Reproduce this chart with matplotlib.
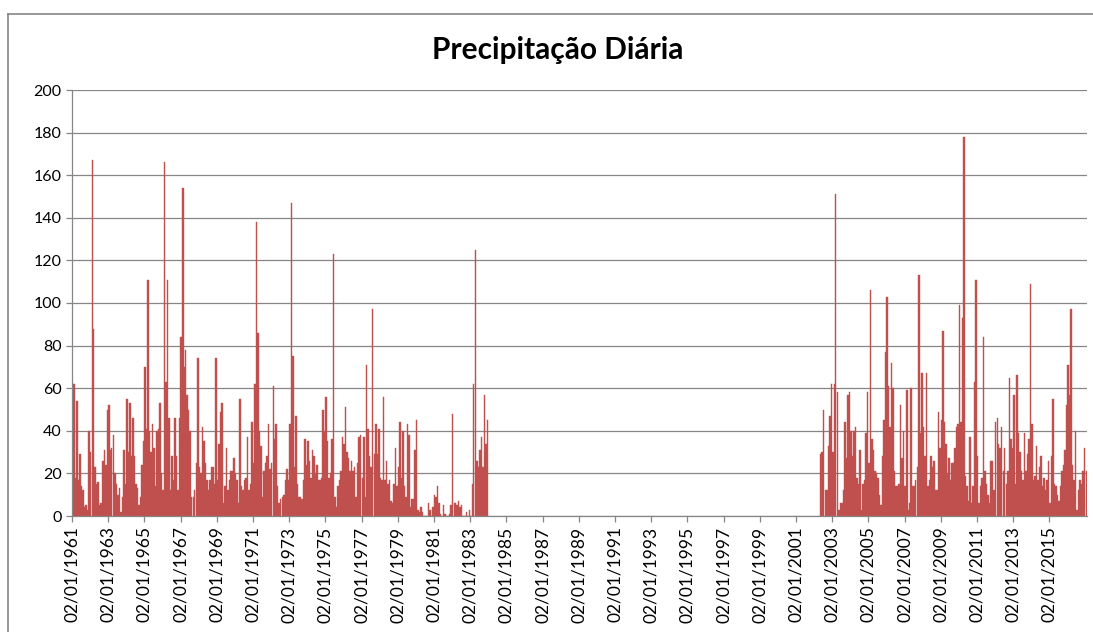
import numpy as np
import matplotlib.pyplot as plt
import matplotlib.dates as mdates
from matplotlib.lines import Line2D

plt.rcParams["font.family"] = ["Lato", "DejaVu Sans"]

# peak daily rainfall (mm) per month
start_1 = "1961-01"
rain_1961_1983 = [
    62, 62, 18, 54, 17, 29, 14, 12, 4, 5, 3, 40,
    30, 167, 88, 23, 15, 16, 5, 6, 26, 31, 24, 50,
    52, 31, 32, 38, 20, 15, 10, 13, 2, 9, 31, 15,
    55, 30, 53, 28, 46, 28, 15, 13, 5, 9, 24, 35,
    70, 41, 111, 40, 30, 43, 32, 14, 40, 41, 53, 20,
    12, 166, 63, 111, 46, 12, 28, 17, 46, 28, 12, 46,
    84, 154, 70, 78, 57, 50, 40, 9, 9, 12, 25, 74,
    23, 20, 42, 35, 25, 17, 12, 17, 23, 23, 15, 74,
    17, 34, 49, 53, 6, 14, 32, 12, 17, 21, 21, 27,
    20, 17, 6, 55, 14, 12, 17, 18, 37, 12, 15, 44,
    25, 62, 138, 86, 40, 33, 9, 21, 25, 28, 43, 22,
    25, 61, 36, 43, 14, 6, 8, 9, 10, 17, 22, 17,
    43, 147, 75, 23, 47, 15, 9, 9, 8, 17, 36, 24,
    35, 26, 18, 31, 28, 20, 24, 17, 17, 18, 50, 40,
    56, 35, 18, 20, 36, 123, 9, 4, 14, 17, 21, 37,
    34, 51, 30, 27, 21, 26, 21, 23, 9, 25, 37, 38,
    18, 37, 9, 71, 41, 28, 23, 97, 29, 43, 29, 41,
    18, 17, 56, 17, 26, 15, 17, 7, 6, 15, 32, 14,
    23, 44, 18, 40, 14, 9, 43, 38, 4, 8, 8, 31,
    45, 3, 2, 4, 2, 0, 0, 0, 6, 3, 0, 4,
    10, 9, 14, 6, 1, 0, 5, 1, 0, 0, 1, 5,
    48, 6, 6, 5, 7, 4, 5, 0, 0, 2, 0, 3,
    0, 15, 62, 125, 26, 23, 31, 37, 23, 57, 34, 45,
]

start_2 = "2002-05"
rain_2002_2017 = [
    29, 30, 50, 12, 12, 33, 47, 62,
    30, 62, 151, 58, 3, 6, 6, 12, 44, 27, 57, 58,
    40, 28, 40, 42, 18, 15, 31, 3, 15, 17, 39, 58,
    25, 106, 36, 31, 21, 20, 18, 10, 5, 28, 45, 77,
    103, 61, 42, 72, 60, 21, 14, 14, 15, 52, 27, 40,
    14, 59, 3, 6, 60, 14, 14, 17, 23, 113, 39, 67,
    42, 28, 67, 14, 17, 28, 23, 26, 12, 12, 49, 32,
    45, 87, 44, 34, 20, 27, 17, 25, 25, 32, 42, 43,
    99, 44, 93, 178, 19, 14, 7, 37, 6, 14, 63, 111,
    28, 6, 14, 18, 84, 21, 15, 10, 6, 26, 26, 12,
    44, 46, 34, 32, 42, 21, 32, 15, 21, 65, 36, 32,
    57, 15, 66, 39, 30, 21, 17, 39, 21, 29, 36, 109,
    43, 17, 19, 33, 17, 23, 28, 14, 18, 12, 17, 26,
    6, 28, 55, 15, 14, 10, 7, 14, 21, 24, 31, 52,
    71, 57, 97, 24, 17, 40, 3, 12, 17, 15, 21, 32, 21,
]

tick_years = list(range(1961, 2016, 2))
y_ticks = list(range(0, 201, 20))
title = "Precipitação Diária"


def month_centres(start, n):
    first = np.datetime64(start, "M")
    months = np.arange(first, first + n)
    return mdates.date2num(months.astype("datetime64[D]") + 14)


fig = plt.figure(figsize=(10.93, 6.32), dpi=100)
W, H = 1093, 632
ax = fig.add_axes([72 / W, 1 - 516 / H, (1087 - 72) / W, (516 - 90) / H])

bar_color = "#C0504D"
for start, vals in [(start_1, rain_1961_1983), (start_2, rain_2002_2017)]:
    x = month_centres(start, len(vals))
    ax.bar(x, vals, width=30, color=bar_color, edgecolor=bar_color,
           linewidth=0.3)

ax.set_ylim(0, 200)
ax.set_yticks(y_ticks)
ax.set_xlim(mdates.date2num(np.datetime64("1961-01-02")),
            mdates.date2num(np.datetime64("2017-01-30")))
ticks = [mdates.date2num(np.datetime64(f"{y}-01-02")) for y in tick_years]
ax.set_xticks(ticks)
ax.set_xticklabels([f"02/01/{y}" for y in tick_years], rotation=90)

ax.yaxis.grid(True, color="#868686", linewidth=0.9)
ax.set_axisbelow(True)
for side in ["top", "right"]:
    ax.spines[side].set_visible(False)
for side in ["left", "bottom"]:
    ax.spines[side].set_color("#868686")
    ax.spines[side].set_linewidth(0.9)
ax.tick_params(direction="out", length=4.5, width=0.9, color="#868686",
               labelcolor="#000000", pad=3)
ax.tick_params(axis="y", labelsize=11.5)
ax.tick_params(axis="x", labelsize=12.5)

fig.text(558 / W, 1 - 50 / H, title, ha="center", va="center",
         fontsize=21.5, fontweight="bold")

# chart area border (left and top edges only are inside the picture)
fig.add_artist(Line2D([8 / W, 8 / W], [0, 1 - 14 / H], transform=fig.transFigure,
                      color="#868686", linewidth=1.2))
fig.add_artist(Line2D([8 / W, 1], [1 - 14 / H, 1 - 14 / H], transform=fig.transFigure,
                      color="#868686", linewidth=1.2))

fig.savefig("out.png", dpi=100)
